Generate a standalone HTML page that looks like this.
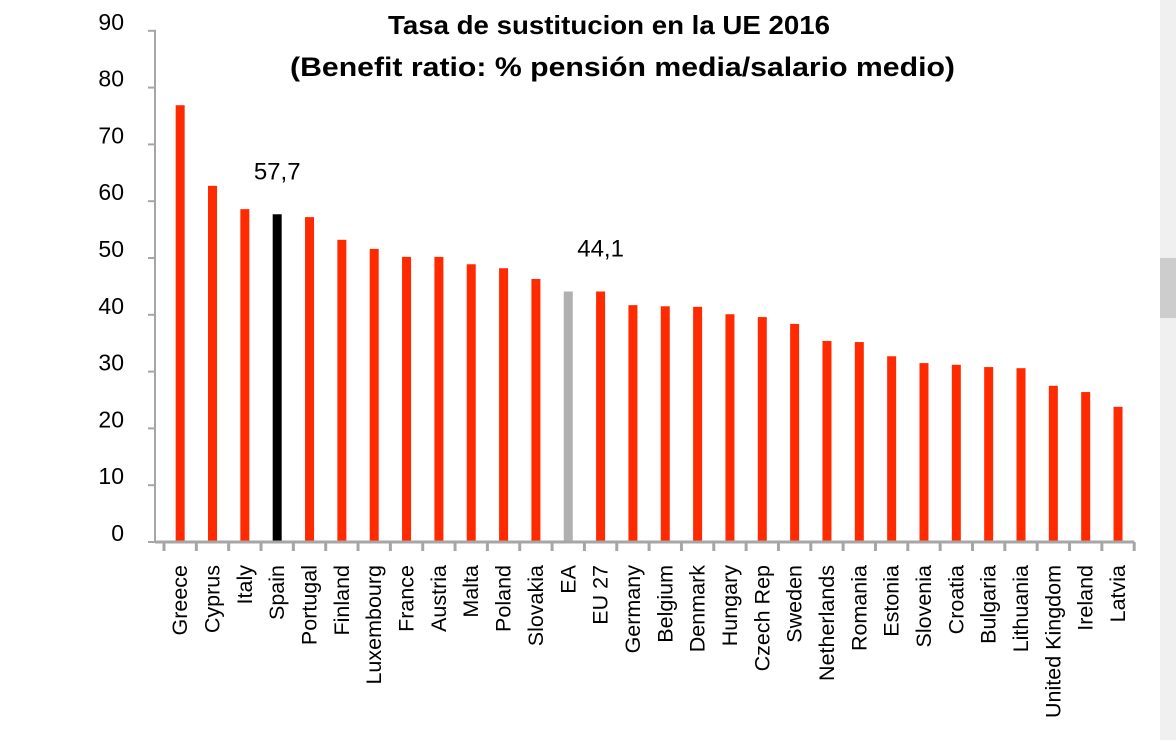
<!DOCTYPE html>
<html><head><meta charset="utf-8"><style>
body{margin:0;width:1176px;height:740px;background:#fff;overflow:hidden;font-family:"Liberation Sans",sans-serif}
</style></head><body>
<svg id="chart" width="1176" height="740" xmlns="http://www.w3.org/2000/svg">
<rect x="1160" y="0" width="16" height="740" fill="#f0f0f0"/>
<rect x="1160" y="258" width="16" height="60" fill="#cdcdcd"/>
<text x="388" y="34" textLength="442" lengthAdjust="spacingAndGlyphs" font-size="26" font-weight="bold">Tasa de sustitucion en la UE 2016</text>
<text x="290" y="76" textLength="665" lengthAdjust="spacingAndGlyphs" font-size="27" font-weight="bold">(Benefit ratio: % pensión media/salario medio)</text>
<g id="g"></g>
</svg>
<script>
const categories=["Greece","Cyprus","Italy","Spain","Portugal","Finland","Luxembourg","France","Austria","Malta","Poland","Slovakia","EA","EU 27","Germany","Belgium","Denmark","Hungary","Czech Rep","Sweden","Netherlands","Romania","Estonia","Slovenia","Croatia","Bulgaria","Lithuania","United Kingdom","Ireland","Latvia"];
const values=[76.9,62.7,58.6,57.7,57.2,53.2,51.6,50.2,50.2,48.9,48.2,46.3,44.1,44.1,41.7,41.5,41.4,40.1,39.6,38.4,35.4,35.2,32.7,31.5,31.2,30.8,30.6,27.5,26.4,23.8];
const yTicks=[0,10,20,30,40,50,60,70,80,90];
const annotations=[{cat:"Spain",label:"57,7"},{cat:"EU 27",label:"44,1"}];
const NS="http://www.w3.org/2000/svg",g=document.getElementById('g');
const y0=542,pxPer=5.68,x0=164,step=32.34;
const y=v=>y0-v*pxPer, xc=i=>x0+step*(i+0.5);
function mk(t,a){const e=document.createElementNS(NS,t);for(const k in a)e.setAttribute(k,a[k]);g.appendChild(e);return e;}
yTicks.forEach(t=>{
  const l=mk('line',{x1:148,x2:156,y1:y(t),y2:y(t),stroke:'#a6a6a6','stroke-width':2});
  
  
  const tx=mk('text',{x:124,y:y(t)-1,'text-anchor':'end','font-size':23,fill:'#000'});
  tx.textContent=t;
  
  
});
const ya=mk('line',{x1:155,x2:155,y1:y(90),y2:y0+1,stroke:'#a6a6a6','stroke-width':2});


categories.forEach((c,i)=>{
  const col=c==="Spain"?"#000":(c==="EA"?"#b0b0b0":"#ff2a00");
  const b=mk('rect',{x:xc(i)-4.5,y:y(values[i]),width:9,height:values[i]*pxPer,fill:col});
  
  
  const t=mk('line',{x1:x0+step*(i+1),x2:x0+step*(i+1),y1:y0,y2:y0+9,stroke:'#a6a6a6','stroke-width':3});
  
  
  const lb=mk('text',{x:0,y:0,'text-anchor':'end','font-size':21.5,transform:`translate(${xc(i)+7},565) rotate(-90)`});
  lb.textContent=c;
  
  
});
const t0=mk('line',{x1:x0,x2:x0,y1:y0,y2:y0+9,stroke:'#a6a6a6','stroke-width':3});


const xa=mk('line',{x1:155,x2:x0+step*30,y1:y0,y2:y0,stroke:'#a6a6a6','stroke-width':3});


annotations.forEach(a=>{
  const i=categories.indexOf(a.cat);
  const t=mk('text',{x:xc(i),y:y(values[i])-35,'text-anchor':'middle','font-size':24});
  t.textContent=a.label;
  
  
});
</script>
</body></html>
